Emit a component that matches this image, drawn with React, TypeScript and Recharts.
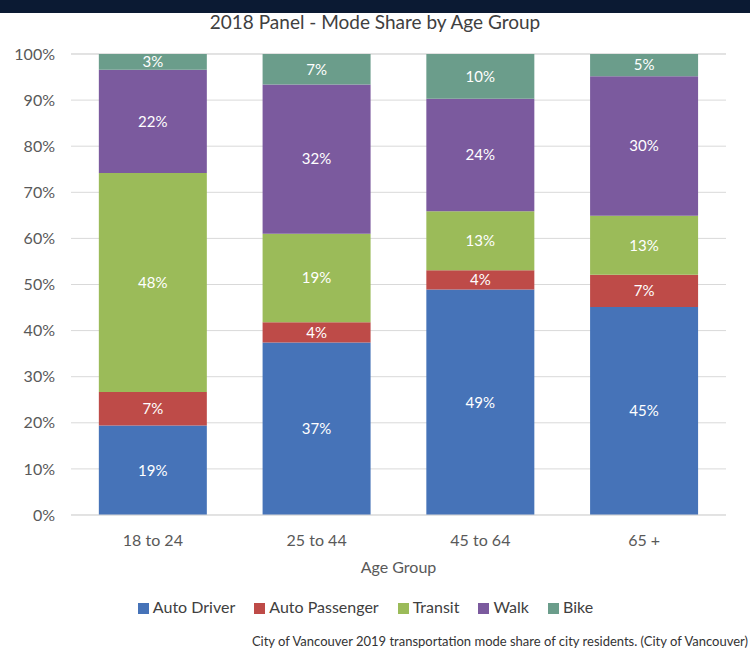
import React from "react";
import {
  BarChart,
  Bar,
  XAxis,
  YAxis,
  CartesianGrid,
  Legend,
  LabelList,
} from "recharts";

const ageGroups = ["18 to 24", "25 to 44", "45 to 64", "65 +"];
const autoDriver = [19.4, 37.4, 48.9, 45.1];
const autoPassenger = [7.3, 4.4, 4.2, 7.0];
const transit = [47.5, 19.2, 12.8, 12.8];
const walk = [22.4, 32.4, 24.4, 30.3];
const bike = [3.4, 6.6, 9.7, 4.8];
const yTicks = [0, 10, 20, 30, 40, 50, 60, 70, 80, 90, 100];

const series = [
  { key: "driver", name: "Auto Driver", color: "#4673b8" },
  { key: "passenger", name: "Auto Passenger", color: "#be4b48" },
  { key: "transit", name: "Transit", color: "#9bbb59" },
  { key: "walk", name: "Walk", color: "#7b5a9e" },
  { key: "bike", name: "Bike", color: "#6b9d8b" },
];

const data = ageGroups.map((group, i) => ({
  group,
  driver: autoDriver[i],
  passenger: autoPassenger[i],
  transit: transit[i],
  walk: walk[i],
  bike: bike[i],
}));

const FONT = "Lato, 'Open Sans', sans-serif";

const order = (item: any) => series.findIndex((s) => s.name === item.value);

const App: React.FC = () => {
  return (
    <div
      style={{
        position: "absolute",
        left: 0,
        top: 0,
        width: 750,
        height: 658,
        background: "#fff",
        fontFamily: FONT,
      }}
    >
      <div style={{ position: "absolute", left: 0, top: 0, width: 750, height: 13, background: "#0b1a33" }} />
      <div
        style={{
          position: "absolute",
          top: 10,
          width: 750,
          textAlign: "center",
          fontSize: 19,
          color: "#404040",
        }}
      >
        2018 Panel - Mode Share by Age Group
      </div>
      <BarChart
        width={750}
        height={658}
        data={data}
        margin={{ top: 54, right: 24, left: 8, bottom: 93 }}
        barCategoryGap="17%"
        style={{ position: "absolute", left: 0, top: 0 }}
      >
        <CartesianGrid vertical={false} stroke="#d9d9d9" />
        <XAxis
          dataKey="group"
          tickLine={false}
          axisLine={{ stroke: "#d9d9d9" }}
          tick={{ fill: "#595959", fontSize: 16, fontFamily: FONT }}
          tickMargin={14}
          height={50}
          label={{
            value: "Age Group",
            position: "insideBottom",
            offset: -8,
            fill: "#595959",
            fontSize: 16,
            fontFamily: FONT,
          }}
        />
        <YAxis
          domain={[0, 100]}
          ticks={yTicks}
          tickFormatter={(v: number) => `${v}%`}
          tickLine={false}
          axisLine={false}
          width={63}
          tickMargin={10}
          tick={{ fill: "#595959", fontSize: 16, fontFamily: FONT }}
        />
        <Legend
          layout="horizontal"
          verticalAlign="middle"
          align="center"
          iconType="square"
          iconSize={11}
          itemSorter={order}
          wrapperStyle={{ top: 597, left: 0, width: 750, fontSize: 16, fontFamily: FONT }}
          formatter={(value: string) => (
            <span style={{ color: "#404040", paddingRight: 9 }}>{value}</span>
          )}
        />
        {series.map((s) => (
          <Bar
            key={s.key}
            dataKey={s.key}
            name={s.name}
            stackId="a"
            fill={s.color}
            isAnimationActive={false}
          >
            <LabelList
              dataKey={s.key}
              position="center"
              fill="#ffffff"
              fontSize={15}
              fontFamily={FONT}
              formatter={(v: number) => `${Math.round(v)}%`}
            />
          </Bar>
        ))}
      </BarChart>
      <div
        style={{
          position: "absolute",
          top: 633,
          right: 2,
          fontSize: 13,
          color: "#333",
        }}
      >
        City of Vancouver 2019 transportation mode share of city residents. (City of Vancouver)
      </div>
    </div>
  );
};

export default App;
